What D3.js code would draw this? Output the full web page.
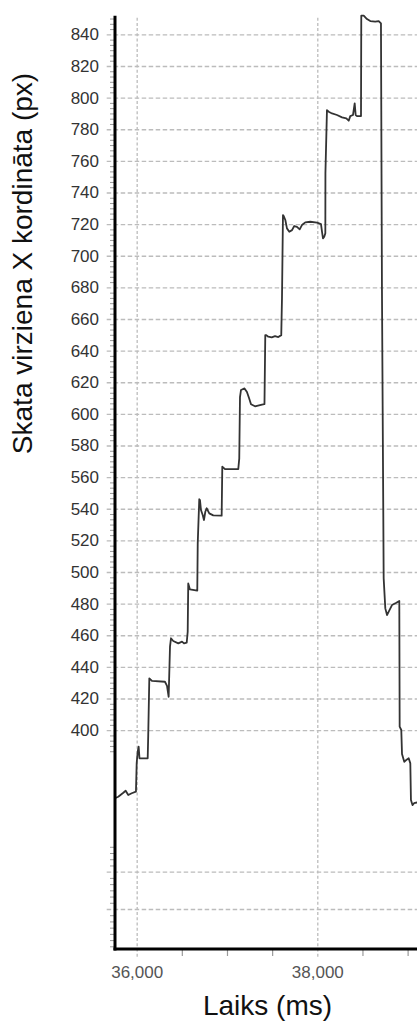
<!DOCTYPE html>
<html>
<head>
<meta charset="utf-8">
<script src="https://cdn.jsdelivr.net/npm/d3@7"></script>
<style>
  html, body { margin: 0; padding: 0; background: #fff; }
  svg { display: block; font-family: "Liberation Sans", Arial, sans-serif; }
</style>
</head>
<body>
<svg id="chart" width="417" height="1021"></svg>
<script>
// Gaze X coordinate over time (ms -> px)
const timeMs = [
  35760, 35796, 35852, 35878, 35907, 35945, 35992, 36000, 36011, 36022, 36031,
  36122, 36128, 36140, 36169, 36313, 36336, 36354, 36369, 36380, 36405, 36461,
  36502, 36524, 36554, 36565, 36571, 36590, 36671, 36676, 36693, 36701, 36712,
  36731, 36745, 36760, 36775, 36804, 36848, 36941, 36948, 36978, 37125, 37136,
  37144, 37155, 37194, 37221, 37244, 37266, 37310, 37388, 37415, 37424, 37435,
  37457, 37495, 37532, 37568, 37601, 37609, 37620, 37628, 37646, 37664, 37690,
  37720, 37745, 37775, 37805, 37830, 37867, 37922, 37997, 38041, 38052, 38063,
  38077, 38089, 38090, 38107, 38126, 38163, 38218, 38274, 38321, 38348, 38365,
  38395, 38414, 38425, 38440, 38484, 38487, 38514, 38550, 38587, 38642, 38680,
  38705, 38716, 38735, 38753, 38772, 38791, 38827, 38875, 38908, 38912, 38930,
  38938, 38963, 38993, 39012, 39030, 39037, 39054, 39071, 39115
];
const viewX = [
  357.0, 357.9, 360.4, 361.7, 359.0, 360.1, 361.1, 379.0, 386.2, 389.5, 382.2,
  382.2, 396.9, 432.8, 431.1, 430.6, 428.0, 421.1, 452.8, 458.1, 456.4, 454.9,
  456.0, 454.9, 455.3, 462.2, 492.8, 489.0, 488.2, 518.1, 546.0, 545.5, 539.2,
  536.0, 532.9, 538.1, 540.3, 537.1, 535.8, 535.6, 566.6, 565.1, 565.1, 571.9,
  610.6, 615.1, 616.1, 613.8, 610.0, 606.1, 604.8, 605.9, 606.1, 649.8, 649.8,
  648.8, 648.4, 649.2, 648.6, 649.8, 673.1, 725.7, 725.1, 722.6, 717.3, 715.2,
  716.2, 718.8, 718.3, 716.7, 719.4, 721.1, 721.5, 720.9, 720.0, 715.2, 711.0,
  712.0, 714.2, 752.1, 792.1, 791.1, 790.0, 789.0, 787.5, 786.9, 785.4, 788.3,
  789.0, 796.4, 789.0, 788.3, 788.3, 851.8, 851.8, 849.7, 848.4, 848.0, 848.4,
  847.0, 678.3, 496.0, 477.0, 472.8, 474.9, 479.1, 480.6, 481.7, 402.2, 400.1,
  384.9, 380.0, 381.5, 382.2, 379.0, 355.8, 352.6, 353.8, 354.4
];

// Axis ticks
const yTickValues = [840, 820, 800, 780, 760, 740, 720, 700, 680, 660, 640, 620,
                     600, 580, 560, 540, 520, 500, 480, 460, 440, 420, 400];
const yLowerGrid = [310.5, 286.9];
const xTickValues = [36000, 38000];
const xMinorTicks = [36500, 37000, 37500, 38500, 39000];

const xTitle = "Laiks (ms)";
const yTitle = "Skata virziena X kordināta (px)";

const plotLeft = 115, plotRight = 417, plotTop = 15.7, plotBottom = 949;

const x = d3.scaleLinear().domain([35760, 39104]).range([plotLeft, plotRight]);
const y = d3.scaleLinear().domain([261.6, 851.8]).range([plotBottom, plotTop]);

const svg = d3.select("#chart");
const gridColor = "#bcbcbc";

// Horizontal dashed grid (reaching a little left of the axis as ticks)
const gridLeft = 106.7;
const hGrid = svg.append("g")
  .attr("transform", `translate(${gridLeft},0)`)
  .call(d3.axisLeft(y).tickValues(yTickValues.concat(yLowerGrid))
    .tickSize(-(plotRight - gridLeft)).tickFormat(""));
hGrid.select(".domain").remove();
hGrid.selectAll(".tick line")
  .attr("stroke", gridColor).attr("stroke-width", 1.3)
  .attr("stroke-dasharray", "4.5,2.5");

// Vertical dashed grid
const vGrid = svg.append("g")
  .attr("transform", `translate(0,${plotBottom + 7.7})`)
  .call(d3.axisBottom(x).tickValues(xTickValues)
    .tickSize(-(plotBottom + 7.7 - plotTop)).tickFormat(""));
vGrid.select(".domain").remove();
vGrid.selectAll(".tick line")
  .attr("stroke", gridColor).attr("stroke-width", 1.3)
  .attr("stroke-dasharray", "3,2.2");

// Minor ticks on the Y axis
const upperMinor = d3.range(-4, 136).filter(i => i % 6 !== 0).map(i => 400 + i * 20 / 6);
const lowerStep = (yLowerGrid[0] - yLowerGrid[1]) / 6;
const lowerMinor = d3.range(-12, 5).filter(i => i % 6 !== 0 || i === -12)
  .map(i => yLowerGrid[0] + i * lowerStep);
const yMinor = svg.append("g")
  .attr("transform", `translate(${plotLeft},0)`)
  .call(d3.axisLeft(y).tickValues(upperMinor.concat(lowerMinor)).tickSize(5).tickFormat(""));
yMinor.select(".domain").remove();
yMinor.selectAll(".tick line").attr("stroke", "#9a9a9a").attr("stroke-width", 1);

// Minor ticks on the X axis
const xMinor = svg.append("g")
  .attr("transform", `translate(0,${plotBottom})`)
  .call(d3.axisBottom(x).tickValues(xMinorTicks).tickSize(7).tickFormat(""));
xMinor.select(".domain").remove();
xMinor.selectAll(".tick line").attr("stroke", "#9a9a9a").attr("stroke-width", 1.2);

// Y tick labels
const yLabels = svg.append("g")
  .attr("transform", `translate(${plotLeft},0)`)
  .call(d3.axisLeft(y).tickValues(yTickValues).tickSize(0).tickPadding(16)
    .tickFormat(d3.format("d")));
yLabels.select(".domain").remove();
yLabels.selectAll("text")
  .attr("font-size", 17).attr("fill", "#333")
  .attr("font-family", "'Liberation Sans', Arial, sans-serif");

// X tick labels
const xLabels = svg.append("g")
  .attr("transform", `translate(0,${plotBottom})`)
  .call(d3.axisBottom(x).tickValues(xTickValues).tickSize(0).tickPadding(17.3)
    .tickFormat(d3.format(",")));
xLabels.select(".domain").remove();
xLabels.selectAll("text")
  .attr("font-size", 17).attr("fill", "#555")
  .attr("font-family", "'Liberation Sans', Arial, sans-serif");

// Data line
svg.append("clipPath").attr("id", "plotClip")
  .append("rect")
  .attr("x", plotLeft).attr("y", 0)
  .attr("width", plotRight - plotLeft).attr("height", plotBottom);

const series = timeMs.map((t, i) => ({ t, v: viewX[i] }));
const line = d3.line().x(d => x(d.t)).y(d => y(d.v));
svg.append("path")
  .datum(series)
  .attr("clip-path", "url(#plotClip)")
  .attr("fill", "none")
  .attr("stroke", "#333")
  .attr("stroke-width", 1.8)
  .attr("stroke-linejoin", "round")
  .attr("d", line);

// Axis lines
svg.append("line")
  .attr("x1", plotLeft).attr("x2", plotLeft)
  .attr("y1", y.range()[1]).attr("y2", plotBottom + 1.5)
  .attr("stroke", "#000").attr("stroke-width", 3);
svg.append("line")
  .attr("x1", plotLeft - 1.5).attr("x2", plotRight)
  .attr("y1", plotBottom).attr("y2", plotBottom)
  .attr("stroke", "#000").attr("stroke-width", 3);

// Axis titles
svg.append("text")
  .attr("x", 267.5).attr("y", 1014.5)
  .attr("text-anchor", "middle")
  .attr("font-size", 28).attr("fill", "#111")
  .text(xTitle);

svg.append("text")
  .attr("transform", "translate(31.7,263.5) rotate(-90)")
  .attr("text-anchor", "middle")
  .attr("font-size", 28).attr("fill", "#111")
  .text(yTitle);
</script>
</body>
</html>
